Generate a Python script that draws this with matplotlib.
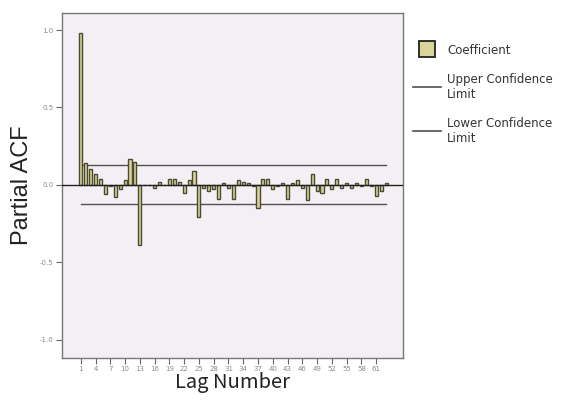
import numpy as np
import matplotlib
matplotlib.use("Agg")
import matplotlib.pyplot as plt
from matplotlib.lines import Line2D

# Partial autocorrelation coefficients, lags 1..63
lags = list(range(1, 64))
pacf = [
    0.98, 0.14, 0.10, 0.07, 0.04, -0.06, -0.01, -0.08, -0.03, 0.03,
    0.17, 0.15, -0.39, 0.00, 0.00, -0.02, 0.02, 0.00, 0.04, 0.04,
    0.02, -0.05, 0.03, 0.09, -0.21, -0.02, -0.04, -0.03, -0.09, 0.01,
    -0.02, -0.09, 0.03, 0.02, 0.01, -0.01, -0.15, 0.04, 0.04, -0.03,
    -0.01, 0.01, -0.09, 0.01, 0.03, -0.02, -0.10, 0.07, -0.04, -0.05,
    0.04, -0.03, 0.04, -0.02, 0.01, -0.02, 0.01, -0.01, 0.04, -0.01,
    -0.07, -0.04, 0.01,
]
upper_limit = 0.125
lower_limit = -0.125
tick_lags = list(range(1, 64, 3))
y_ticks = [-1.0, -0.5, 0.0, 0.5, 1.0]

BAR_FILL = "#d9d49c"
BAR_EDGE = "#4a4a30"
LINE_COLOR = "#505050"
TICK_COLOR = "#8a8a8a"

fig = plt.figure(figsize=(5.64, 4.07), dpi=100)
ax = fig.add_axes([0.110, 0.120, 0.605, 0.848])
ax.set_facecolor("#f4eff4")

ax.bar(lags, pacf, width=0.62, color=BAR_FILL, edgecolor=BAR_EDGE, linewidth=1.0,
       zorder=3)
ax.axhline(0, color="#222222", linewidth=1.0, zorder=4)
ax.plot([lags[0], lags[-1]], [upper_limit, upper_limit], color=LINE_COLOR,
        linewidth=1.0, zorder=2)
ax.plot([lags[0], lags[-1]], [lower_limit, lower_limit], color=LINE_COLOR,
        linewidth=1.0, zorder=2)

ax.set_xlim(-2.8, 66.5)
ax.set_ylim(-1.12, 1.11)
ax.set_xticks(tick_lags)
ax.set_xticklabels([str(t) for t in tick_lags], fontsize=5, color=TICK_COLOR)
ax.set_yticks(y_ticks)
ax.set_yticklabels([f"{v:.1f}" for v in y_ticks], fontsize=5, color=TICK_COLOR)
ax.tick_params(axis="both", direction="out", length=4, width=0.8, color="#666666",
               pad=2)
for sp in ax.spines.values():
    sp.set_color("#777777")
    sp.set_linewidth(1.0)

ax.set_ylabel("Partial ACF", fontsize=17, family="Liberation Sans",
              color="#222222", labelpad=5)
ax.set_xlabel("Lag Number", fontsize=14.5, family="Noto Sans CJK JP",
              color="#222222", labelpad=0)

handles = [
    Line2D([0], [0], marker="s", markersize=11, markerfacecolor=BAR_FILL,
           markeredgecolor="#222222", markeredgewidth=1.3, linestyle="none"),
    Line2D([0], [0], color=LINE_COLOR, linewidth=1.2),
    Line2D([0], [0], color=LINE_COLOR, linewidth=1.2),
]
labels = ["Coefficient", "Upper Confidence\nLimit", "Lower Confidence\nLimit"]
ax.legend(handles, labels, loc="upper left", bbox_to_anchor=(1.015, 0.925),
          frameon=False, fontsize=8.5, handlelength=2.4, handleheight=1.3,
          handletextpad=0.5, labelspacing=1.35, borderaxespad=0,
          labelcolor="#333333")

fig.savefig("out.png", dpi=100)
